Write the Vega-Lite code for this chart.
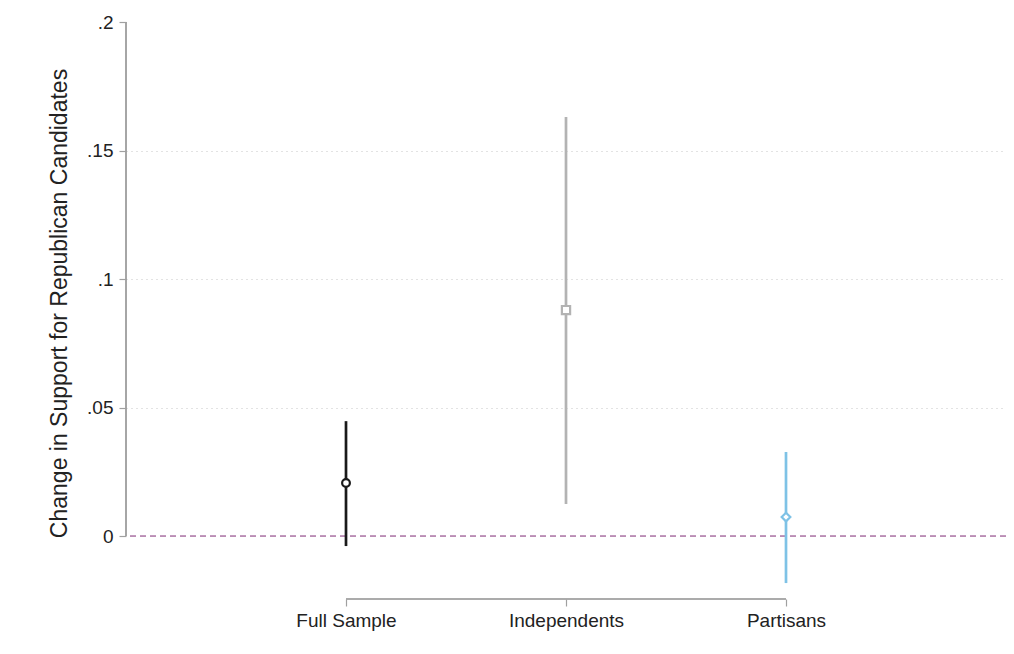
{
  "$schema": "https://vega.github.io/schema/vega-lite/v6.json",
  "autosize": {"type": "none"},
  "width": 880,
  "height": 577,
  "padding": {"left": 126, "top": 22, "right": 8, "bottom": 55},
  "background": "white",
  "config": {
    "view": {"stroke": null},
    "font": "Liberation Sans"
  },
  "data": {
    "values": [
      {"group": "Full Sample", "est": 0.0206, "lo": -0.0039, "hi": 0.0447},
      {"group": "Independents", "est": 0.0879, "lo": 0.0125, "hi": 0.163},
      {"group": "Partisans", "est": 0.0074, "lo": -0.0183, "hi": 0.0327}
    ]
  },
  "resolve": {"scale": {"x": "independent"}},
  "layer": [
    {
      "layer": [
        {
          "mark": {"type": "rule", "strokeWidth": 1.3, "strokeDash": [6, 4], "color": "#b98bb4"},
          "encoding": {
            "y": {"datum": 0, "type": "quantitative"}
          }
        },
        {
          "mark": {"type": "rule", "strokeWidth": 1.2, "color": "#a0a0a0"},
          "encoding": {
            "x": {"datum": "Full Sample", "type": "nominal"},
            "x2": {"datum": "Partisans"},
            "y": {"datum": -0.0245, "type": "quantitative"}
          }
        },
        {
          "mark": {"type": "rule", "strokeWidth": 2.7},
          "encoding": {
            "x": {
              "field": "group", "type": "nominal",
              "scale": {"type": "point", "padding": 1, "domain": ["Full Sample", "Independents", "Partisans"]},
              "axis": {
                "title": null, "domain": false, "labelAngle": 0, "labelAlign": "center",
                "labelFontSize": 19, "labelColor": "#222", "labelPadding": 14,
                "tickColor": "#a0a0a0", "tickSize": 7, "tickWidth": 1.2, "grid": false
              }
            },
            "y": {
              "field": "lo", "type": "quantitative",
              "scale": {"domain": [-0.0245, 0.2], "nice": false, "zero": false},
              "axis": {
                "title": "Change in Support for Republican Candidates",
                "titleFontSize": 23, "titleFontWeight": "normal", "titleColor": "#222",
                "titleAngle": -90, "titleX": -60, "titleY": 281, "titleAlign": "center", "titleBaseline": "alphabetic",
                "values": [0, 0.05, 0.1, 0.15, 0.2],
                "labelExpr": "datum.value == 0 ? '0' : replace(format(datum.value, '.2~f'), '0.', '.')",
                "labelFontSize": 19, "labelColor": "#222", "labelPadding": 6,
                "domain": false, "tickColor": "#a0a0a0", "tickSize": 7, "tickWidth": 1.2,
                "grid": true, "gridDash": [1, 4], "gridWidth": 1.2,
                "gridColor": {"condition": {"test": "datum.value == 0 || datum.value == 0.2", "value": "transparent"}, "value": "#c8c8c8"}
              }
            },
            "y2": {"field": "hi"},
            "color": {
              "field": "group", "type": "nominal",
              "scale": {"domain": ["Full Sample", "Independents", "Partisans"], "range": ["#1a1a1a", "#b3b3b3", "#7ec2e6"]},
              "legend": null
            }
          }
        },
        {
          "mark": {"type": "point", "filled": false, "fill": "white", "fillOpacity": 1, "strokeWidth": 2.2, "opacity": 1},
          "encoding": {
            "x": {"field": "group", "type": "nominal"},
            "y": {"field": "est", "type": "quantitative"},
            "color": {"field": "group", "type": "nominal", "legend": null},
            "shape": {
              "field": "group", "type": "nominal",
              "scale": {"domain": ["Full Sample", "Independents", "Partisans"], "range": ["circle", "square", "diamond"]},
              "legend": null
            },
            "size": {
              "field": "group", "type": "nominal",
              "scale": {"domain": ["Full Sample", "Independents", "Partisans"], "range": [60, 75, 115]},
              "legend": null
            }
          }
        }
      ]
    },
    {
      "mark": {"type": "rule", "strokeWidth": 1.2, "color": "#a0a0a0"},
      "encoding": {
        "x": {"datum": 0, "type": "quantitative", "scale": {"domain": [0, 1]}, "axis": null},
        "y": {"datum": 0, "type": "quantitative"},
        "y2": {"datum": 0.2}
      }
    }
  ]
}
